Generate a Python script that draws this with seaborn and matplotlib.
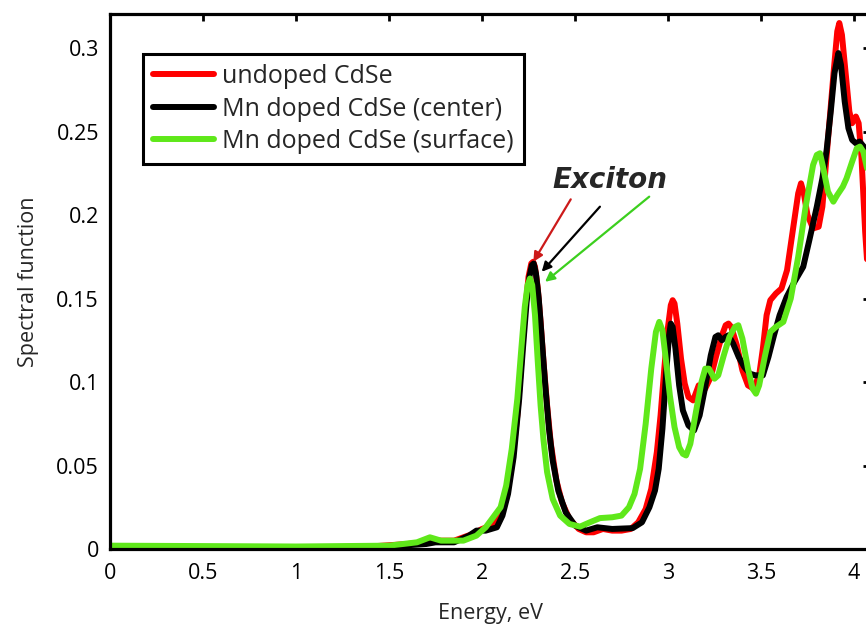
import numpy as np
import pandas as pd
import matplotlib
matplotlib.use("Agg")
import matplotlib.pyplot as plt
import seaborn as sns

# ---------------- data ----------------
red_x = [0.0, 0.5, 1.0, 1.4, 1.6, 1.7, 1.75, 1.85, 1.95, 2.0, 2.05, 2.1, 2.13, 2.16, 2.19,
         2.21, 2.23, 2.25, 2.265, 2.275, 2.285, 2.30, 2.315, 2.33, 2.35, 2.37, 2.40, 2.43,
         2.47, 2.52, 2.56, 2.6, 2.65, 2.7, 2.75, 2.8, 2.84, 2.88, 2.91, 2.94, 2.96, 2.98,
         3.0, 3.015, 3.025, 3.035, 3.05, 3.07, 3.09, 3.11, 3.135, 3.155, 3.165, 3.18, 3.20,
         3.23, 3.26, 3.29, 3.31, 3.325, 3.34, 3.37, 3.40, 3.43, 3.46, 3.49, 3.51, 3.53,
         3.55, 3.58, 3.61, 3.64, 3.67, 3.70, 3.715, 3.73, 3.75, 3.78, 3.81, 3.83, 3.86,
         3.89, 3.91, 3.921, 3.935, 3.955, 3.975, 3.99, 4.01, 4.025, 4.04, 4.06, 4.09]
red_y = [0.0005, 0.0005, 0.0008, 0.0015, 0.003, 0.004, 0.005, 0.005, 0.009, 0.012, 0.014,
         0.02, 0.03, 0.05, 0.08, 0.11, 0.14, 0.163, 0.171, 0.172, 0.169, 0.156, 0.136,
         0.113, 0.086, 0.063, 0.041, 0.028, 0.018, 0.012, 0.010, 0.010, 0.012, 0.011,
         0.011, 0.012, 0.016, 0.024, 0.036, 0.058, 0.08, 0.108, 0.133, 0.146, 0.149, 0.147,
         0.135, 0.114, 0.099, 0.091, 0.089, 0.095, 0.098, 0.097, 0.096, 0.103, 0.116,
         0.128, 0.134, 0.135, 0.133, 0.122, 0.107, 0.098, 0.096, 0.104, 0.120, 0.140,
         0.149, 0.153, 0.156, 0.167, 0.190, 0.213, 0.219, 0.213, 0.200, 0.192, 0.193,
         0.205, 0.245, 0.285, 0.31, 0.315, 0.308, 0.285, 0.262, 0.255, 0.259, 0.255,
         0.235, 0.19, 0.14]

black_x = [0.0, 1.0, 1.5, 1.7, 1.75, 1.85, 1.93, 1.97, 2.02, 2.08, 2.11, 2.14, 2.17, 2.20,
           2.22, 2.24, 2.255, 2.268, 2.278, 2.29, 2.305, 2.32, 2.34, 2.36, 2.38, 2.41, 2.45,
           2.5, 2.56, 2.62, 2.7, 2.81, 2.86, 2.9, 2.93, 2.95, 2.97, 2.99, 3.005, 3.015,
           3.025, 3.04, 3.06, 3.08, 3.11, 3.14, 3.17, 3.20, 3.23, 3.255, 3.27, 3.29, 3.31,
           3.325, 3.35, 3.38, 3.41, 3.44, 3.47, 3.51, 3.54, 3.57, 3.60, 3.638, 3.68, 3.727,
           3.76, 3.80, 3.83, 3.853, 3.875, 3.895, 3.916, 3.93, 3.95, 3.97, 3.99, 4.01, 4.03,
           4.06, 4.09]
black_y = [0.0005, 0.0008, 0.0015, 0.003, 0.004, 0.004, 0.008, 0.011, 0.011, 0.013, 0.02,
           0.033, 0.055, 0.09, 0.12, 0.148, 0.163, 0.170, 0.171, 0.165, 0.150, 0.128,
           0.098, 0.072, 0.053, 0.035, 0.022, 0.014, 0.011, 0.013, 0.012, 0.0125, 0.016,
           0.025, 0.035, 0.048, 0.072, 0.105, 0.127, 0.135, 0.133, 0.12, 0.098, 0.083,
           0.074, 0.071, 0.080, 0.097, 0.116, 0.127, 0.128, 0.125, 0.127, 0.128, 0.123,
           0.115, 0.109, 0.105, 0.104, 0.104, 0.115, 0.128, 0.140, 0.151, 0.160, 0.169,
           0.185, 0.205, 0.222, 0.239, 0.262, 0.285, 0.297, 0.29, 0.268, 0.252, 0.245,
           0.243, 0.244, 0.24, 0.238]

green_x = [0.0, 1.0, 1.5, 1.65, 1.72, 1.78, 1.9, 1.97, 2.02, 2.06, 2.10, 2.13, 2.16, 2.19,
           2.21, 2.23, 2.245, 2.258, 2.27, 2.285, 2.30, 2.315, 2.33, 2.35, 2.38, 2.42, 2.47,
           2.527, 2.58, 2.634, 2.7, 2.75, 2.79, 2.82, 2.85, 2.88, 2.91, 2.935, 2.953, 2.97,
           2.99, 3.01, 3.035, 3.06, 3.08, 3.097, 3.12, 3.15, 3.18, 3.20, 3.22, 3.25, 3.27,
           3.30, 3.33, 3.36, 3.378, 3.40, 3.43, 3.455, 3.473, 3.49, 3.52, 3.55, 3.58, 3.62,
           3.66, 3.70, 3.74, 3.78, 3.80, 3.817, 3.835, 3.86, 3.889, 3.91, 3.94, 3.96, 3.99,
           4.015, 4.032, 4.05, 4.07, 4.09]
green_y = [0.002, 0.0015, 0.002, 0.004, 0.007, 0.005, 0.005, 0.008, 0.013, 0.019, 0.025,
           0.038, 0.06, 0.09, 0.118, 0.145, 0.158, 0.162, 0.158, 0.14, 0.112, 0.086, 0.066,
           0.046, 0.03, 0.02, 0.015, 0.0134, 0.016, 0.0185, 0.019, 0.020, 0.025, 0.033,
           0.048, 0.075, 0.108, 0.13, 0.136, 0.131, 0.112, 0.092, 0.073, 0.061, 0.057, 0.056,
           0.063, 0.082, 0.100, 0.108, 0.108, 0.102, 0.104, 0.116, 0.127, 0.133, 0.134,
           0.126, 0.108, 0.096, 0.093, 0.098, 0.115, 0.13, 0.133, 0.136, 0.150, 0.175, 0.205,
           0.230, 0.236, 0.237, 0.228, 0.214, 0.208, 0.212, 0.217, 0.222, 0.232, 0.24, 0.241,
           0.238, 0.228, 0.215]

series_names = ["undoped CdSe", "Mn doped CdSe (center)", "Mn doped CdSe (surface)"]
series_colors = ["#ff0000", "#000000", "#5fe81a"]

x_ticks = [0, 0.5, 1, 1.5, 2, 2.5, 3, 3.5, 4]
x_tick_labels = ["0", "0.5", "1", "1.5", "2", "2.5", "3", "3.5", "4"]
y_ticks = [0, 0.05, 0.1, 0.15, 0.2, 0.25, 0.3]
y_tick_labels = ["0", "0.05", "0.1", "0.15", "0.2", "0.25", "0.3"]

# ---------------- build table ----------------
frames = []
for name, xs, ys in zip(series_names, [red_x, black_x, green_x], [red_y, black_y, green_y]):
    frames.append(pd.DataFrame({"Energy": xs, "Spectral": ys, "series": name}))
df = pd.concat(frames, ignore_index=True)

sns.set_style("white")
plt.rcParams["font.family"] = ["Open Sans", "DejaVu Sans"]

fig = plt.figure(figsize=(8.66, 6.28), dpi=100)
ax = fig.add_axes([110 / 866, 1 - 549 / 628, 760 / 866, 535 / 628])

sns.lineplot(data=df, x="Energy", y="Spectral", hue="series", hue_order=series_names,
             palette=dict(zip(series_names, series_colors)), estimator=None,
             linewidth=4.3, ax=ax, solid_joinstyle="round", solid_capstyle="round")

ax.set_xlim(0, 4.086)
ax.set_ylim(0, 0.3204)
ax.set_xticks(x_ticks)
ax.set_xticklabels(x_tick_labels)
ax.set_yticks(y_ticks)
ax.set_yticklabels(y_tick_labels)
ax.tick_params(direction="in", length=5, width=2, top=True, right=True,
               labelsize=15.5, pad=8, colors="black")
ax.tick_params(axis="x", pad=10)
for s in ax.spines.values():
    s.set_visible(True)
    s.set_linewidth(2.3)
    s.set_color("black")

ax.set_xlabel("Energy, eV", fontsize=15.5, labelpad=14)
ax.set_ylabel("Spectral function", fontsize=15.5, labelpad=12)

leg = ax.legend(loc="upper left", bbox_to_anchor=(0.0434, 0.925), borderaxespad=0,
                fontsize=18, frameon=True, fancybox=False, framealpha=1,
                edgecolor="black", handlelength=2.45, handletextpad=0.33,
                labelspacing=0.3, borderpad=0.4, title=None)
leg.get_frame().set_linewidth(2.2)
for h in leg.get_lines():
    h.set_linewidth(4.3)

# Exciton annotation
ax.text(2.688, 0.221, "Exciton", fontsize=20, fontweight="bold", fontstyle="italic",
        family=["DejaVu Sans"], ha="center", va="center")
arrow_starts = [(2.477, 0.2094), (2.634, 0.205), (2.899, 0.211)]
arrow_ends = [(2.276, 0.172), (2.321, 0.166), (2.339, 0.160)]
arrow_colors = ["#cc1a1a", "#000000", "#3ccf1e"]
for st, en, c in zip(arrow_starts, arrow_ends, arrow_colors):
    ax.annotate("", xy=en, xytext=st,
                arrowprops=dict(arrowstyle="-|>", color=c, lw=1.6, mutation_scale=14,
                                shrinkA=0, shrinkB=0))

fig.savefig("out.png", dpi=100)
